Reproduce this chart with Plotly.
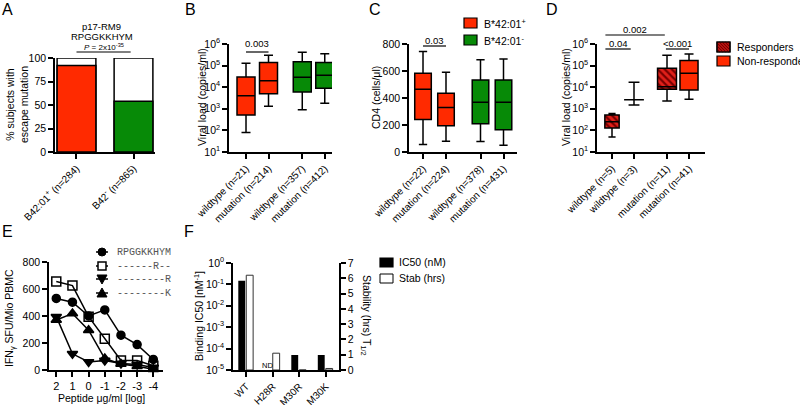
import plotly.graph_objects as go

W, H = 800, 405
FONT = "Liberation Sans, Arial, sans-serif"
MONO = "Liberation Mono, Courier New, monospace"
RED = "#ff2a00"
GREEN = "#078a07"
DARKRED = "#7a0000"
HATCHBG = "#e0201a"

# ---------------- data ----------------
# Panel A
a_groups = ["B42:01<sup>+</sup> (n=284)", "B42<sup>-</sup> (n=865)"]
a_escape_pct = [92, 54]

# Panel B (viral load, copies/ml)
b_labels = ["wildtype (n=21)", "mutation (n=214)", "wildtype (n=357)", "mutation (n=412)"]
b_low = [80, 1300, 900, 1800]
b_q1 = [520, 5000, 6000, 9000]
b_med = [4000, 20000, 29000, 36000]
b_q3 = [30000, 140000, 150000, 140000]
b_high = [130000, 300000, 420000, 350000]

# Panel C (CD4 cells/ul)
c_labels = ["wildtype (n=22)", "mutation (n=224)", "wildtype (n=378)", "mutation (n=431)"]
c_low = [55, 80, 77, 50]
c_q1 = [240, 195, 210, 165]
c_med = [465, 330, 368, 368]
c_q3 = [584, 435, 534, 534]
c_high = [745, 590, 683, 688]

# Panel D (viral load by response)
d_labels = ["wildtype (n=5)", "wildtype (n=3)", "mutation (n=11)", "mutation (n=41)"]
d_responder = [True, False, True, False]
d_low = [50, 1500, 2300, 2800]
d_q1 = [130, 2600, 8000, 7500]
d_med = [250, 2600, 10500, 44000]
d_q3 = [520, 2600, 75000, 170000]
d_high = [600, 17000, 300000, 340000]

# Panel E (IFNg SFU/Mio PBMC)
e_conc_log = [2, 1, 0, -1, -2, -3, -4]
e_names = ["RPGGKKHYM", "------R--", "--------R", "--------K"]
e_wt = [530, 502, 400, 445, 258, 188, 78]
e_r28 = [655, 625, 395, 232, 70, 70, 32]
e_r30 = [395, 120, 60, 70, 48, 40, 18]
e_k30 = [370, 418, 295, 85, 45, 28, 5]

# Panel F
f_variants = ["WT", "H28R", "M30R", "M30K"]
f_ic50 = [0.15, None, 5e-5, 5e-5]
f_stab = [6.2, 1.1, 0, 0.1]

# ---------------- helpers ----------------
def px(x):
    return x / W

def py(y):
    return 1 - y / H

def dom_x(a, b):
    return [a / W, b / W]

def dom_y(top, bottom):
    return [1 - bottom / H, 1 - top / H]

def ax(**kw):
    base = dict(showline=True, linecolor="black", linewidth=1.5, ticks="outside",
                ticklen=5, tickwidth=1.5, tickcolor="black", showgrid=False, automargin=False,
                zeroline=False, tickfont=dict(family=FONT, size=10.5, color="black"))
    base.update(kw)
    return base

def sup(n):
    return "10<sup>%d</sup>" % n

fig = go.Figure()

# ---------------- Panel A ----------------
a_pos = list(range(len(a_groups)))
fig.add_trace(go.Bar(x=a_pos, y=[100] * len(a_pos), width=0.68, marker=dict(color="white", line=dict(color="black", width=1.5)),
                     xaxis="x", yaxis="y", showlegend=False, hoverinfo="skip"))
fig.add_trace(go.Bar(x=a_pos, y=a_escape_pct, width=0.68, marker=dict(color=[RED, GREEN], line=dict(color="black", width=1.5)),
                     xaxis="x", yaxis="y", showlegend=False, hoverinfo="skip"))

# ---------------- Panel D hatched fills (bars first so boxes draw above) ----------------
d_pos = [0, 1, 2.5, 3.5]
d_width = [0.65, 0.9, 0.86, 0.82]
for i in range(4):
    if d_responder[i]:
        fig.add_trace(go.Bar(x=[d_pos[i]], y=[d_q3[i] - d_q1[i]], base=[d_q1[i]], width=d_width[i],
                             marker=dict(color=HATCHBG, line=dict(width=0),
                                         pattern=dict(shape="\\", fgcolor=DARKRED, bgcolor=HATCHBG, size=5, solidity=0.45)),
                             xaxis="x4", yaxis="y4", showlegend=False, hoverinfo="skip"))

# ---------------- Panel F bars ----------------
f_pos = list(range(len(f_variants)))
fig.add_trace(go.Bar(x=f_pos, y=f_ic50, offset=-0.3, width=0.26, marker=dict(color="black", line=dict(width=0)),
                     xaxis="x6", yaxis="y6", showlegend=False, hoverinfo="skip"))
fig.add_trace(go.Bar(x=f_pos, y=f_stab, offset=0.0, width=0.26, marker=dict(color="white", line=dict(color="#333", width=1)),
                     xaxis="x6", yaxis="y7", showlegend=False, hoverinfo="skip"))

# ---------------- Panel B boxes ----------------
b_pos = [0, 1, 2.5, 3.5]
b_col = [RED, RED, GREEN, GREEN]
for i in range(4):
    fig.add_trace(go.Box(x=[b_pos[i]], q1=[b_q1[i]], median=[b_med[i]], q3=[b_q3[i]],
                         lowerfence=[b_low[i]], upperfence=[b_high[i]], width=0.8, whiskerwidth=0.5,
                         fillcolor=b_col[i], line=dict(color="black", width=1.5), boxpoints=False,
                         xaxis="x2", yaxis="y2", showlegend=False, hoverinfo="skip"))

# ---------------- Panel C boxes ----------------
c_pos = [0, 1, 2.5, 3.5]
for i in range(4):
    fig.add_trace(go.Box(x=[c_pos[i]], q1=[c_q1[i]], median=[c_med[i]], q3=[c_q3[i]],
                         lowerfence=[c_low[i]], upperfence=[c_high[i]], width=0.72, whiskerwidth=0.5,
                         fillcolor=b_col[i], line=dict(color="black", width=1.5), boxpoints=False,
                         xaxis="x3", yaxis="y3", showlegend=False, hoverinfo="skip"))

# ---------------- Panel D boxes ----------------
for i in range(4):
    if d_responder[i]:
        fc = "rgba(0,0,0,0)"
    elif d_q1[i] == d_q3[i]:
        fc = "rgba(0,0,0,0)"
    else:
        fc = RED
    fig.add_trace(go.Box(x=[d_pos[i]], q1=[d_q1[i]], median=[d_med[i]], q3=[d_q3[i]],
                         lowerfence=[d_low[i]], upperfence=[d_high[i]], width=d_width[i],
                         whiskerwidth=0.55 if d_q1[i] == d_q3[i] else 0.5,
                         fillcolor=fc, line=dict(color="black", width=1.5), boxpoints=False,
                         xaxis="x4", yaxis="y4", showlegend=False, hoverinfo="skip"))

# ---------------- Panel E lines ----------------
e_series = [e_wt, e_r28, e_r30, e_k30]
e_symbols = ["circle", "square-open", "triangle-down", "triangle-up"]
e_sizes = [8, 9, 9, 9]
for vals, sym, sz in zip(e_series, e_symbols, e_sizes):
    fig.add_trace(go.Scatter(x=e_conc_log, y=vals, mode="lines+markers",
                             line=dict(color="black", width=1.5),
                             marker=dict(symbol=sym, size=sz, color="black", line=dict(color="black", width=1.5)),
                             cliponaxis=False, xaxis="x5", yaxis="y5", showlegend=False, hoverinfo="skip"))

# ---------------- layout / axes ----------------
layout = dict(
    template="none",
    width=W, height=H, margin=dict(l=0, r=0, t=0, b=0, autoexpand=False),
    paper_bgcolor="white", plot_bgcolor="white", barmode="overlay", showlegend=False,
    font=dict(family=FONT, color="black"),
    # A
    xaxis=ax(domain=dom_x(55, 155), anchor="y", range=[-0.377, 1.377], tickvals=a_pos, ticktext=a_groups,
             tickangle=-45, tickfont=dict(family=FONT, size=10, color="black")),
    yaxis=ax(domain=dom_y(58, 152), anchor="x", range=[0, 100], tickvals=[0, 25, 50, 75, 100]),
    # B
    xaxis2=ax(domain=dom_x(229, 332), anchor="y2", range=[-0.756, 3.822], tickvals=b_pos, ticktext=b_labels,
              tickangle=-45, tickfont=dict(family=FONT, size=10, color="black")),
    yaxis2=ax(domain=dom_y(44, 152), anchor="x2", type="log", range=[1, 6],
              tickvals=[10 ** k for k in range(1, 7)], ticktext=[sup(k) for k in range(1, 7)]),
    # C
    xaxis3=ax(domain=dom_x(409, 517), anchor="y3", range=[-0.609, 4.087], tickvals=c_pos, ticktext=c_labels,
              tickangle=-45, tickfont=dict(family=FONT, size=10, color="black")),
    yaxis3=ax(domain=dom_y(44, 152), anchor="x3", range=[0, 800], tickvals=[0, 200, 400, 600, 800]),
    # D
    xaxis4=ax(domain=dom_x(597, 705), anchor="y4", range=[-0.682, 4.227], tickvals=d_pos, ticktext=d_labels,
              tickangle=-45, tickfont=dict(family=FONT, size=10, color="black")),
    yaxis4=ax(domain=dom_y(44, 152), anchor="x4", type="log", range=[1, 6],
              tickvals=[10 ** k for k in range(1, 7)], ticktext=[sup(k) for k in range(1, 7)]),
    # E
    xaxis5=ax(domain=dom_x(49, 163), anchor="y5", range=[2.45, -4.6], tickvals=e_conc_log,
              ticktext=[str(v) for v in e_conc_log], tickfont=dict(family=FONT, size=11, color="black")),
    yaxis5=ax(domain=dom_y(262, 370), anchor="x5", range=[0, 800], tickvals=[0, 200, 400, 600, 800]),
    # F
    xaxis6=ax(domain=dom_x(233, 339), anchor="y6", range=[-0.5, 3.5], tickvals=f_pos, ticktext=f_variants,
              tickangle=-45, tickfont=dict(family=FONT, size=10, color="black")),
    yaxis6=ax(domain=dom_y(263, 370), anchor="x6", type="log", range=[-5, 0],
              tickvals=[10 ** k for k in range(-5, 1)], ticktext=[sup(k) for k in range(-5, 1)]),
    yaxis7=ax(domain=dom_y(263, 370), anchor="x6", overlaying="y6", side="right", range=[0, 7],
              tickvals=list(range(0, 8))),
)
fig.update_layout(**layout)

ann = []
def text(x, y, s, size=10.5, angle=0, xanchor="center", family=FONT, color="black", xref="paper"):
    ann.append(dict(x=x if xref != "paper" else px(x), y=py(y), xref=xref, yref="paper", text=s,
                    showarrow=False, textangle=angle, xanchor=xanchor, yanchor="middle",
                    font=dict(family=family, size=size, color=color)))

# panel letters
for letter, (lx, ly) in zip("ABCDEF", [(7, 9), (190, 9), (375, 9), (552, 9), (7, 231), (189, 231)]):
    text(lx, ly, letter, size=16)

# axis titles
text(17, 105, "% subjects with<br>escape mutation", size=10.5, angle=-90)
text(202, 97, "Viral load (copies/ml)", size=10.5, angle=-90)
text(376, 98, "CD4 (cells/μl)", size=10.5, angle=-90)
text(566, 97, "Viral load (copies/ml)", size=10.5, angle=-90)
text(10, 318, "IFN<sub>γ</sub> SFU/Mio PBMC", size=10.5, angle=-90)
text(101, 398, "Peptide μg/ml [log]", size=10.5)
text(198, 316, "Binding IC50 [nM<sup>-1</sup>]", size=10.5, angle=-90)
text(366, 315, "Stability (hrs) T<sub>1/2</sub>", size=10.5, angle=90)

# panel A header
text(101, 27, "p17-RM9", size=9.5)
text(102, 37, "RPGGKKHYM", size=9.5)
text(104, 47.5, "<i>P</i> = 2x10<sup>-35</sup>", size=8)

shapes = []
def hline(xref, x0, x1, y):
    shapes.append(dict(type="line", xref=xref, yref="paper", x0=x0, x1=x1, y0=py(y), y1=py(y),
                       line=dict(color="black", width=1.2)))

hline("x", 0, 0.95, 52)
# B significance
hline("x2", 0, 1, 52)
text(0.5, 44, "0.003", size=9.5, xref="x2")
# C significance
hline("x3", 0, 1, 46)
text(0.5, 40, "0.03", size=9.5, xref="x3")
# D significance
hline("x4", -0.3, 2.4, 35)
text(1.05, 29, "0.002", size=9.5, xref="x4")
hline("x4", -0.3, 0.85, 49)
text(0.28, 43, "0.04", size=9.5, xref="x4")
hline("x4", 2.45, 3.5, 49)
text(2.98, 43, "<0.001", size=9.5, xref="x4")

# F "ND"
text(0.8, 365, "ND", size=7.5, xref="x6")

def rect(x0, y0, x1, y1, fill, lw=1.2):
    shapes.append(dict(type="rect", xref="paper", yref="paper", x0=px(x0), x1=px(x1), y0=py(y1), y1=py(y0),
                       fillcolor=fill, line=dict(color="black", width=lw)))

# C legend
rect(464, 18, 477, 28, RED)
rect(464, 35, 477, 45, GREEN)
text(482, 23, "B*42:01<sup>+</sup>", size=10.5, xanchor="left")
text(482, 40, "B*42:01<sup>-</sup>", size=10.5, xanchor="left")

# D legend (hatched swatch)
rect(717, 42, 730, 52, HATCHBG)
x0, y0, x1, y1 = 717, 42, 730, 52
for d in range(-10, 14, 3):
    sx, sy = x0 + d, y0
    ex, ey = x0 + d + (y1 - y0), y1
    if sx < x0:
        sy += x0 - sx
        sx = x0
    if ex > x1:
        ey -= ex - x1
        ex = x1
    if ex > sx:
        shapes.append(dict(type="line", xref="paper", yref="paper", x0=px(sx), y0=py(sy), x1=px(ex), y1=py(ey),
                           line=dict(color=DARKRED, width=1.3)))
rect(717, 42, 730, 52, "rgba(0,0,0,0)")
rect(717, 56, 730, 66, RED)
text(735, 47, "Responders", size=10.5, xanchor="left")
text(735, 61, "Non-responders", size=10.5, xanchor="left")

# E legend
leg_y = [252, 266, 279, 293]
for k, yy in enumerate(leg_y):
    shapes.append(dict(type="line", xref="paper", yref="paper", x0=px(96), x1=px(108), y0=py(yy), y1=py(yy),
                       line=dict(color="black", width=1.5)))
    cx = 102
    if k == 0:
        shapes.append(dict(type="circle", xref="paper", yref="paper", x0=px(cx - 4), x1=px(cx + 4),
                           y0=py(yy + 4), y1=py(yy - 4), fillcolor="black", line=dict(color="black", width=1)))
    elif k == 1:
        shapes.append(dict(type="rect", xref="paper", yref="paper", x0=px(cx - 4), x1=px(cx + 4),
                           y0=py(yy + 4), y1=py(yy - 4), fillcolor="white", line=dict(color="black", width=1.5)))
    elif k == 2:
        path = "M %f %f L %f %f L %f %f Z" % (px(cx - 5), py(yy - 4), px(cx + 5), py(yy - 4), px(cx), py(yy + 5))
        shapes.append(dict(type="path", xref="paper", yref="paper", path=path, fillcolor="black",
                           line=dict(color="black", width=1)))
    else:
        path = "M %f %f L %f %f L %f %f Z" % (px(cx - 5), py(yy + 4), px(cx + 5), py(yy + 4), px(cx), py(yy - 5))
        shapes.append(dict(type="path", xref="paper", yref="paper", path=path, fillcolor="black",
                           line=dict(color="black", width=1)))
    text(115, yy, e_names[k], size=10, xanchor="left", family=MONO, color="#555555")

# F legend
rect(380, 258, 393, 267, "black")
rect(380, 274, 393, 283, "white", lw=1)
text(397, 262, "IC50 (nM)", size=10.5, xanchor="left")
text(397, 278, "Stab (hrs)", size=10.5, xanchor="left")

fig.update_layout(annotations=ann, shapes=shapes)
fig.write_html("out.html", config={"displayModeBar": False},
               post_script="document.body.style.margin='0';document.body.style.overflow='hidden';")
